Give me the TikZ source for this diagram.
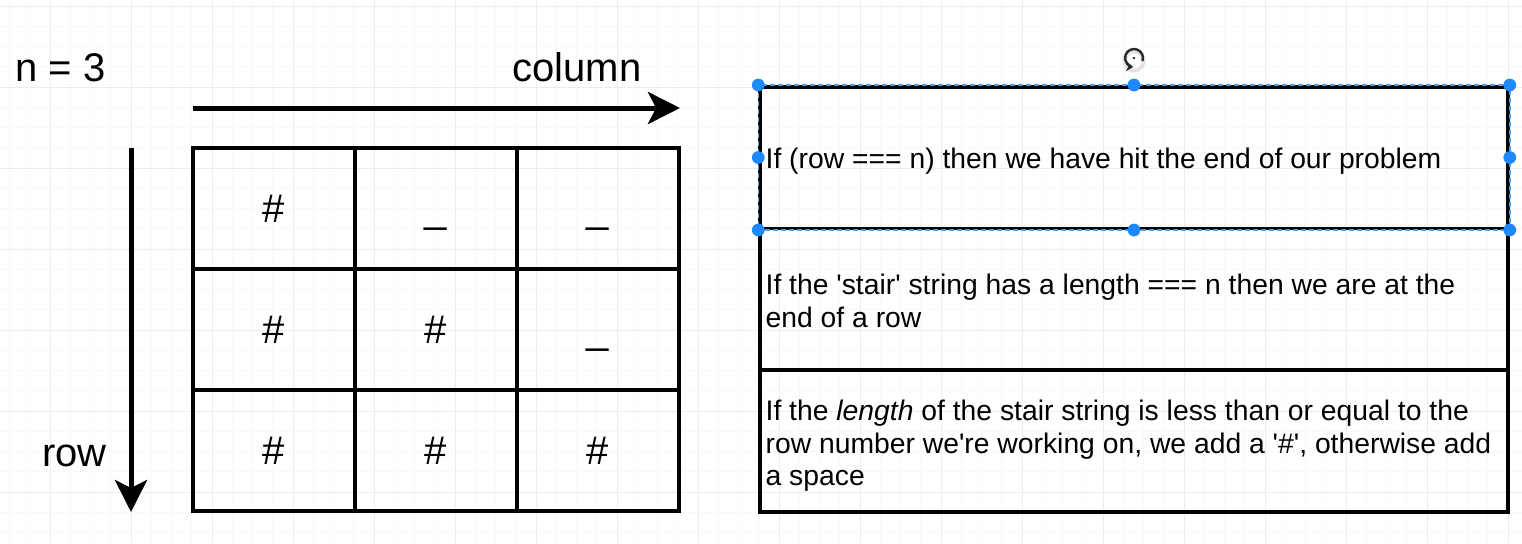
\documentclass[tikz,border=0pt]{standalone}
\usepackage{fontspec}
\setmainfont{Liberation Sans}
\usetikzlibrary{arrows.meta}
\definecolor{gridminor}{HTML}{F9F9F9}
\definecolor{gridmajor}{HTML}{ECECEC}
\definecolor{handle}{HTML}{1E88FF}
\definecolor{seldash}{HTML}{4A9FE8}
\definecolor{iconc}{HTML}{2A2A2A}
\tikzset{
  cell/.style={draw, line width=2pt, minimum width=81pt, minimum height=60.75pt,
    inner sep=0pt, font=\fontsize{20pt}{24pt}\selectfont, text height=14pt, text depth=0pt},
  biglabel/.style={inner sep=0pt, font=\fontsize{20pt}{24pt}\selectfont},
  bigarrow/.style={line width=2.5pt, -{Stealth[length=16pt,width=16pt,inset=4pt]}},
  infobox/.style={draw, line width=1.75pt, minimum width=374pt, minimum height=70.75pt, inner sep=0pt},
  boxtext/.style={inner sep=0pt, align=left, font=\fontsize{14.15pt}{16.25pt}\selectfont},
  selhandle/.style={fill=handle, draw=none},
}
\begin{document}
\begin{tikzpicture}[x=0.5pt,y=-0.5pt]
\useasboundingbox (0,0) rectangle (1522,543);
\fill[white] (0,0) rectangle (1522,543);
% background grid
\foreach \k in {-2,...,72} \draw[gridminor, line width=0.5pt] ({50+20.25*\k},0) -- ({50+20.25*\k},543);
\foreach \k in {-4,...,23} \draw[gridminor, line width=0.5pt] (0,{87+20.25*\k}) -- (1522,{87+20.25*\k});
\foreach \k in {0,...,18} \draw[gridmajor, line width=0.5pt] ({50+81*\k},0) -- ({50+81*\k},543);
\foreach \k in {0,...,6} \draw[gridmajor, line width=0.5pt] (0,{6+81*\k}) -- (1522,{6+81*\k});

% labels
\node[biglabel, anchor=base west] (nval) at (15,81) {n = 3};
\node[biglabel, anchor=base west] (collabel) at (512,81) {column};
\node[biglabel, anchor=base west] (rowlabel) at (42,466) {row};

% table
\node[cell] (c11) at (274,208.5) {\#};
\node[cell] (c12) at (436,208.5) {\_};
\node[cell] (c13) at (597.5,208.5) {\_};
\node[cell] (c21) at (274,329.5) {\#};
\node[cell] (c22) at (436,329.5) {\#};
\node[cell] (c23) at (597.5,329.5) {\_};
\node[cell] (c31) at (274,450.5) {\#};
\node[cell] (c32) at (436,450.5) {\#};
\node[cell] (c33) at (597.5,450.5) {\#};

% arrows
\coordinate (colstart) at (193,108);
\coordinate (colend) at (680,108);
\draw[bigarrow] (colstart) -- (colend);
\coordinate (rowstart) at (131,148);
\coordinate (rowend) at (131,512);
\draw[bigarrow] (rowstart) -- (rowend);

% info boxes
\node[infobox] (b1) at (1134,157.5) {};
\node[infobox] (b2) at (1134,299) {};
\node[infobox] (b3) at (1134,441) {};
\node[boxtext, anchor=west] (t1) at ([xshift=3.5pt,yshift=-2pt]b1.west) {If (row === n) then we have hit the end of our problem};
\node[boxtext, anchor=west] (t2) at ([xshift=3.5pt,yshift=-1pt]b2.west) {If the \textquotesingle stair\textquotesingle{} string has a length === n then we are at the\\end of a row};
\node[boxtext, anchor=west] (t3) at ([xshift=3.5pt,yshift=-2.5pt]b3.west) {If the \textit{length} of the stair string is less than or equal to the\\row number we\textquotesingle re working on, we add a \textquotesingle\#\textquotesingle, otherwise add\\a space};

% selection overlay
\draw[seldash, line width=0.75pt, dash pattern=on 2.5pt off 1.5pt] (b1.north west) rectangle (b1.south east);
\foreach \a in {north west, north, north east, west, east, south west, south, south east}
  \fill[selhandle] (b1.\a) circle[radius=3.2pt];
% rotate icon
\coordinate (rot) at (1134,58);
\draw[iconc!25, line width=2pt, opacity=0.5] ([yshift=-1.5pt]rot) circle[radius=4.8pt];
\draw[iconc, line width=1.2pt, -{Stealth[length=3.5pt,width=5pt]}] ([shift={(-20:4.5pt)}]rot) arc[start angle=-20, end angle=265, radius=4.5pt];
\fill[iconc] (rot) circle[radius=0.7pt];
\end{tikzpicture}
\end{document}
